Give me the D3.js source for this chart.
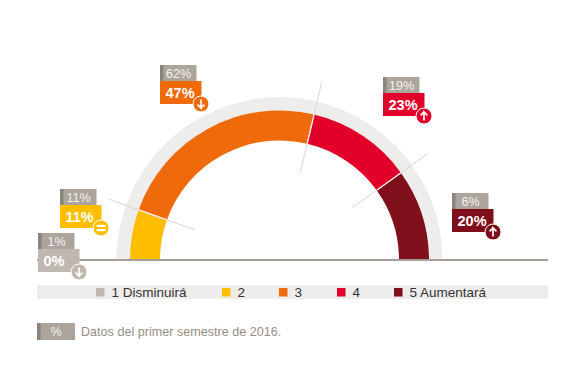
<!DOCTYPE html>
<html>
<head>
<meta charset="utf-8">
<script src="https://cdn.jsdelivr.net/npm/d3@7"></script>
<style>
  html, body { margin: 0; padding: 0; background: #fff; }
  svg { display: block; font-family: "Liberation Sans", Arial, sans-serif; }
</style>
</head>
<body>
<div id="chart"></div>
<script>
'use strict';

const categories = ['1 Disminuirá', '2', '3', '4', '5 Aumentará'];
const currentValues = [0, 11, 47, 23, 20];
const previousValues = [1, 11, 62, 19, 6];
const trends = ['down', 'same', 'down', 'up', 'up'];
const colours = ['#bfb8b1', '#ffbf00', '#ee6a0a', '#e2002b', '#7e0f1b'];
const footnote = 'Datos del primer semestre de 2016.';

// layout only, top-left corner of each callout and x of each legend swatch
const calloutPos = [[38, 233], [60, 189], [160, 65], [383, 77], [452, 193]];
const legendX = [96, 222, 279, 337, 394];

const width = 585, height = 387;
const cx = 279.5, cy = 260;

const svg = d3.select('#chart').append('svg')
    .attr('width', width)
    .attr('height', height);

const colour = d3.scaleOrdinal().domain(categories).range(colours);

const pie = d3.pie()
    .sort(null)
    .startAngle(-Math.PI / 2)
    .endAngle(Math.PI / 2);
const slices = pie(currentValues);

const gauge = svg.append('g').attr('transform', `translate(${cx},${cy})`);

// background track
gauge.append('path')
    .attr('d', d3.arc()({
        innerRadius: 149,
        outerRadius: 163,
        startAngle: -Math.PI / 2,
        endAngle: Math.PI / 2
    }))
    .attr('fill', '#efecec');

const arc = d3.arc().innerRadius(119.5).outerRadius(149.5);

gauge.selectAll('.slice')
    .data(slices)
    .enter()
    .append('path')
    .attr('class', 'slice')
    .attr('d', arc)
    .attr('fill', (d, i) => colours[i]);

// separators between the scale bands
const bounds = slices.slice(2, 5).map(d => d.startAngle);
const radial = (a, r) => [Math.sin(a) * r, -Math.cos(a) * r];

gauge.selectAll('.sep')
    .data(bounds)
    .enter()
    .append('path')
    .attr('class', 'sep')
    .attr('d', a => d3.line()([radial(a, 90), radial(a, 182)]))
    .attr('stroke', '#d9d5d1')
    .attr('stroke-width', 1)
    .attr('fill', 'none');

gauge.selectAll('.sep-in')
    .data(bounds)
    .enter()
    .append('path')
    .attr('class', 'sep-in')
    .attr('d', a => d3.line()([radial(a, 119.5), radial(a, 150)]))
    .attr('stroke', '#f7efe9')
    .attr('stroke-width', 1.2)
    .attr('fill', 'none');

// baseline
svg.append('line')
    .attr('x1', 37).attr('x2', 548)
    .attr('y1', cy).attr('y2', cy)
    .attr('stroke', '#a79e95')
    .attr('stroke-width', 2);

// callouts
const callouts = svg.selectAll('.callout')
    .data(categories)
    .enter()
    .append('g')
    .attr('class', 'callout')
    .attr('transform', (d, i) => `translate(${calloutPos[i]})`);

callouts.append('rect')
    .attr('width', 36.5).attr('height', 16.5)
    .attr('fill', '#aca59d');
callouts.append('rect')
    .attr('width', 3.5).attr('height', 16.5)
    .attr('fill', '#8b847d');
callouts.append('text')
    .attr('x', 18.5).attr('y', 13)
    .attr('text-anchor', 'middle')
    .attr('font-size', 12.5)
    .attr('fill', '#f4f1ee')
    .text((d, i) => previousValues[i] + '%');

callouts.append('rect')
    .attr('y', 16)
    .attr('width', 41.5).attr('height', 23)
    .attr('fill', (d, i) => colours[i]);
callouts.append('text')
    .attr('x', 5.5).attr('y', 32.5)
    .attr('font-size', 14.5)
    .attr('font-weight', 'bold')
    .attr('fill', '#fff')
    .text((d, i) => currentValues[i] + '%');

const badge = callouts.append('g')
    .attr('transform', 'translate(41,39)');
badge.append('circle')
    .attr('r', 8)
    .attr('fill', (d, i) => colours[i])
    .attr('stroke', '#fff')
    .attr('stroke-width', 1);

const arrowPath = d3.line()([[0, -4.5], [0, 4], [-3.4, 0.6], [0, 4], [3.4, 0.6]]);
badge.filter((d, i) => trends[i] !== 'same')
    .append('path')
    .attr('d', arrowPath)
    .attr('transform', d => trends[categories.indexOf(d)] === 'up' ? 'rotate(180)' : null)
    .attr('fill', 'none')
    .attr('stroke', '#fff')
    .attr('stroke-width', 1.7);
badge.filter((d, i) => trends[i] === 'same')
    .selectAll('rect')
    .data([-3.2, 1])
    .enter()
    .append('rect')
    .attr('x', -4.5).attr('y', d => d)
    .attr('width', 9).attr('height', 2.2)
    .attr('fill', '#fff');

// legend
svg.append('rect')
    .attr('x', 37).attr('y', 285)
    .attr('width', 511).attr('height', 14)
    .attr('fill', '#efecec');

const legend = svg.selectAll('.legend')
    .data(categories)
    .enter()
    .append('g')
    .attr('class', 'legend')
    .attr('transform', (d, i) => `translate(${legendX[i]},288)`);
legend.append('rect')
    .attr('width', 8.5).attr('height', 8.5)
    .attr('fill', d => colour(d));
legend.append('text')
    .attr('x', 15.5).attr('y', 9)
    .attr('font-size', 13.5)
    .attr('fill', '#333')
    .text(d => d);

// footnote
svg.append('rect')
    .attr('x', 37).attr('y', 323)
    .attr('width', 38).attr('height', 17)
    .attr('fill', '#aca59d');
svg.append('rect')
    .attr('x', 37).attr('y', 323)
    .attr('width', 3.5).attr('height', 17)
    .attr('fill', '#8b847d');
svg.append('text')
    .attr('x', 56).attr('y', 336)
    .attr('text-anchor', 'middle')
    .attr('font-size', 12.5)
    .attr('fill', '#f4f1ee')
    .text('%');
svg.append('text')
    .attr('x', 81).attr('y', 336)
    .attr('font-size', 12.6)
    .attr('fill', '#968e86')
    .text(footnote);
</script>
</body>
</html>
